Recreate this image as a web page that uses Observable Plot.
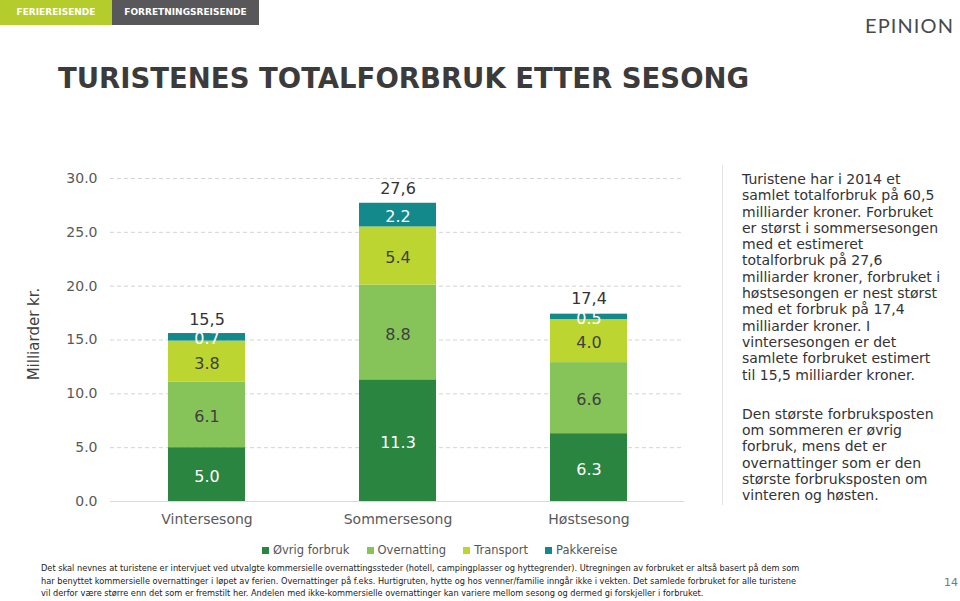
<!DOCTYPE html>
<html>
<head>
<meta charset="utf-8">
<script src="https://cdn.jsdelivr.net/npm/d3@7"></script>
<script src="https://cdn.jsdelivr.net/npm/@observablehq/plot@0.6"></script>
<style>
  html, body { margin: 0; padding: 0; background: #fff; }
  body { width: 960px; height: 601px; position: relative; overflow: hidden; font-family: "DejaVu Sans", Verdana, sans-serif; }
  .abs { position: absolute; }
  .tab { position: absolute; top: 0; height: 25px; line-height: 25px; color: #fff; font-weight: bold; font-size: 9px; text-align: center; font-family: "DejaVu Sans", Verdana, sans-serif; }
  #title { left: 58px; top: 62px; font-size: 27.5px; font-weight: bold; color: #3b3b3b; white-space: nowrap; }
  #logo { left: 865px; top: 13px; font-family: Lato, "Open Sans", sans-serif; font-weight: 400; font-size: 20px; letter-spacing: 1.1px; color: #4a4a4a; white-space: nowrap; }
  #ylabel { left: 34px; top: 334px; transform: translate(-50%, -50%) rotate(-90deg); font-size: 15px; color: #404040; white-space: nowrap; }
  #chart { left: 0; top: 160px; }
  #divider { left: 722px; top: 165px; width: 1px; height: 340px; background: #e3e3e3; }
  #side { left: 742px; top: 171px; font-size: 14px; line-height: 16.3px; color: #333; white-space: nowrap; }
  #legend { left: 262px; top: 543px; display: flex; gap: 17px; font-size: 11.5px; color: #555; white-space: nowrap; }
  #legend .item { display: flex; align-items: center; gap: 4px; }
  #legend .sw { width: 7px; height: 7px; display: inline-block; }
  #foot { left: 41px; top: 562px; font-family: "DejaVu Sans Condensed", "DejaVu Sans", sans-serif; font-size: 9.15px; line-height: 12.6px; color: #222; white-space: nowrap; }
  #page { left: 944px; top: 576px; font-size: 11px; color: #777; }
</style>
</head>
<body>
<script>
// ---- data ----
const seasons = ["Vintersesong", "Sommersesong", "Høstsesong"];
const categories = ["Øvrig forbruk", "Overnatting", "Transport", "Pakkereise"];
const ovrigForbruk = [5.0, 11.3, 6.3];
const overnatting = [6.1, 8.8, 6.6];
const transport = [3.8, 5.4, 4.0];
const pakkereise = [0.7, 2.2, 0.5];
const totals = [15.5, 27.6, 17.4];
const totalLabels = ["15,5", "27,6", "17,4"];
const yTicks = [0, 5, 10, 15, 20, 25, 30];
const colors = ["#2a8540", "#86c45a", "#bdd531", "#13898b"];
const labelColors = ["#ffffff", "#404040", "#404040", "#ffffff"];

const series = [ovrigForbruk, overnatting, transport, pakkereise];
const rows = [];
categories.forEach((cat, ci) => {
  seasons.forEach((s, si) => {
    rows.push({season: s, cat, value: series[ci][si], labelColor: labelColors[ci]});
  });
});
const totalRows = seasons.map((s, i) => ({season: s, total: totals[i], label: totalLabels[i]}));

// ---- page chrome ----
function add(html) { document.body.insertAdjacentHTML("beforeend", html); }
add(`<div class="tab" style="left:0;width:112px;background:#b4cd2c;">FERIEREISENDE</div>`);
add(`<div class="tab" style="left:112px;width:147px;background:#58585a;">FORRETNINGSREISENDE</div>`);
add(`<div id="logo" class="abs">EPINION</div>`);
add(`<div id="title" class="abs">TURISTENES TOTALFORBRUK ETTER SESONG</div>`);
add(`<div id="ylabel" class="abs">Milliarder kr.</div>`);
add(`<div id="divider" class="abs"></div>`);

const stackOpts = {x: "season", y: "value", z: "cat", order: categories};

const chart = Plot.plot({
  width: 720,
  height: 380,
  marginLeft: 110,
  marginRight: 36,
  marginTop: 18,
  marginBottom: 39,
  style: {fontFamily: "DejaVu Sans, Verdana, sans-serif", background: "transparent"},
  x: {domain: seasons, paddingInner: 0.597, paddingOuter: 0.2985, label: null},
  y: {domain: [0, 30], label: null},
  color: {domain: categories, range: colors},
  marks: [
    Plot.gridY(yTicks, {stroke: "#d4d4d4", strokeOpacity: 1, strokeDasharray: "4,3"}),
    Plot.ruleY([0], {stroke: "#d9d9d9", strokeWidth: 1}),
    Plot.axisY(yTicks, {tickSize: 0, tickPadding: 13, tickFormat: d3.format(".1f"), fontSize: 14, color: "#595959", label: null}),
    Plot.axisX({tickSize: 0, tickPadding: 13, fontSize: 14, color: "#595959", label: null}),
    Plot.barY(rows, Plot.stackY({...stackOpts, fill: "cat"})),
    Plot.text(rows, Plot.stackY({...stackOpts, text: d => d3.format(".1f")(d.value), fill: "labelColor", fontSize: 16, dy: 2})),
    Plot.text(totalRows, {x: "season", y: "total", text: "label", dy: -15, fontSize: 16, fill: "#333"})
  ]
});
chart.id = "chart";
chart.classList.add("abs");
chart.style.position = "absolute";
document.body.appendChild(chart);

// ---- side text ----
const sideLines1 = [
  "Turistene har i 2014 et",
  "samlet totalforbruk på 60,5",
  "milliarder kroner. Forbruket",
  "er størst i sommersesongen",
  "med et estimeret",
  "totalforbruk på 27,6",
  "milliarder kroner, forbruket i",
  "høstsesongen er nest størst",
  "med et forbruk på 17,4",
  "milliarder kroner. I",
  "vintersesongen er det",
  "samlete forbruket estimert",
  "til 15,5 milliarder kroner."
];
const sideLines2 = [
  "Den største forbruksposten",
  "om sommeren er øvrig",
  "forbruk, mens det er",
  "overnattinger som er den",
  "største forbruksposten om",
  "vinteren og høsten."
];
add(`<div id="side" class="abs">${sideLines1.join("<br>")}<br><div style="height:23px"></div>${sideLines2.join("<br>")}</div>`);

// ---- legend ----
add(`<div id="legend" class="abs">${categories.map((c, i) => `<span class="item"><span class="sw" style="background:${colors[i]}"></span>${c}</span>`).join("")}</div>`);

// ---- footnote ----
const footLines = [
  "Det skal nevnes at turistene er intervjuet ved utvalgte kommersielle overnattingssteder (hotell, campingplasser og hyttegrender). Utregningen av forbruket er altså basert på dem som",
  "har benyttet kommersielle overnattinger i løpet av ferien. Overnattinger på f.eks. Hurtigruten, hytte og hos venner/familie inngår ikke i vekten. Det samlede forbruket for alle turistene",
  "vil derfor være større enn det som er fremstilt her. Andelen med ikke-kommersielle overnattinger kan variere mellom sesong og dermed gi forskjeller i forbruket."
];
add(`<div id="foot" class="abs">${footLines.join("<br>")}</div>`);
add(`<div id="page" class="abs">14</div>`);
</script>
</body>
</html>
